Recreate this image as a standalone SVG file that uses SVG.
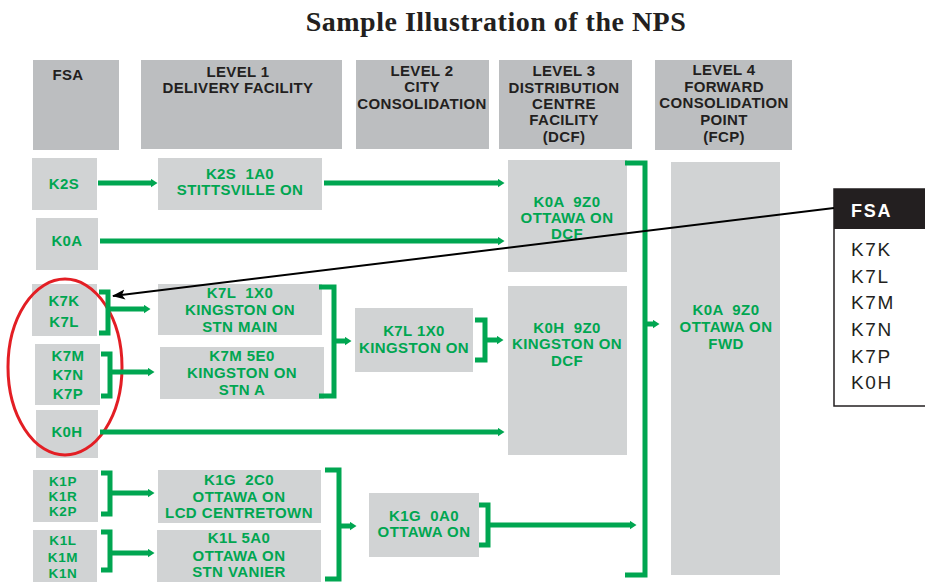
<svg xmlns="http://www.w3.org/2000/svg" width="925" height="582" viewBox="0 0 925 582">
<defs>
<style>
text{white-space:pre;font-family:"Liberation Sans",Arial,sans-serif}
.title{font-family:"Liberation Serif","Times New Roman",serif;font-weight:bold;font-size:28px;letter-spacing:0.5px;fill:#231f20}
.hdr{fill:#bcbec0}
.box{fill:#d1d3d4}
.ht{font-weight:bold;font-size:15px;letter-spacing:0.35px;fill:#231f20;text-anchor:middle}
.gt{font-weight:bold;font-size:15px;letter-spacing:0.4px;fill:#00a651;text-anchor:middle}
.gs{font-weight:bold;font-size:13.5px;letter-spacing:0.6px;fill:#00a651;text-anchor:middle}
.g{stroke:#00a651;stroke-width:5;fill:none}
.ga{stroke:#00a651;stroke-width:5;fill:none;marker-end:url(#gh)}
.lt{font-size:19px;letter-spacing:1.6px;fill:#231f20}
</style>
<marker id="gh" markerUnits="userSpaceOnUse" markerWidth="8" markerHeight="10" refX="0.5" refY="4.5" orient="auto"><path d="M0,0 L7,4.5 L0,9 z" fill="#00a651"/></marker>
<marker id="bh" markerUnits="userSpaceOnUse" markerWidth="14" markerHeight="12" refX="12" refY="5" orient="auto"><path d="M0,0 L13,5 L0,10 L3,5 z" fill="#000"/></marker>
</defs>
<rect width="925" height="582" fill="#fff"/>
<text class="title" x="496" y="31" text-anchor="middle">Sample Illustration of the NPS</text>

<g id="hdr-fsa"><rect class="hdr" x="33" y="60" width="86" height="90"/><text class="ht" x="68" y="80">FSA</text></g>
<g id="hdr-l1"><rect class="hdr" x="141" y="60" width="201" height="89"/><text class="ht" x="238" y="77">LEVEL 1</text><text class="ht" x="238" y="93">DELIVERY FACILITY</text></g>
<g id="hdr-l2"><rect class="hdr" x="356" y="60" width="133" height="89"/><text class="ht" x="422" y="76">LEVEL 2</text><text class="ht" x="422" y="92">CITY</text><text class="ht" x="422" y="109">CONSOLIDATION</text></g>
<g id="hdr-l3"><rect class="hdr" x="499" y="60" width="133" height="89"/><text class="ht" x="564" y="76">LEVEL 3</text><text class="ht" x="564" y="93">DISTRIBUTION</text><text class="ht" x="564" y="109">CENTRE</text><text class="ht" x="564" y="125">FACILITY</text><text class="ht" x="564" y="142">(DCF)</text></g>
<g id="hdr-l4"><rect class="hdr" x="655" y="60" width="137" height="90"/><text class="ht" x="724" y="75">LEVEL 4</text><text class="ht" x="724" y="92">FORWARD</text><text class="ht" x="724" y="108">CONSOLIDATION</text><text class="ht" x="724" y="125">POINT</text><text class="ht" x="724" y="142">(FCP)</text></g>

<g id="fsa-k2s"><rect class="box" x="32" y="158" width="65" height="52"/><text class="gt" x="64" y="189">K2S</text></g>
<g id="fsa-k0a"><rect class="box" x="36" y="218" width="62" height="52"/><text class="gt" x="67" y="246">K0A</text></g>
<g id="fsa-k7k"><rect class="box" x="32" y="284" width="65" height="52"/><text class="gt" x="64" y="306">K7K</text><text class="gt" x="64" y="327">K7L</text></g>
<g id="fsa-k7m"><rect class="box" x="35" y="344" width="65" height="61"/><text class="gt" x="68" y="361">K7M</text><text class="gt" x="68" y="380">K7N</text><text class="gt" x="68" y="399">K7P</text></g>
<g id="fsa-k0h"><rect class="box" x="36" y="410" width="62" height="48"/><text class="gt" x="67" y="437">K0H</text></g>
<g id="fsa-k1p"><rect class="box" x="33" y="470" width="65" height="52"/><text class="gs" x="63" y="486">K1P</text><text class="gs" x="63" y="501">K1R</text><text class="gs" x="63" y="516">K2P</text></g>
<g id="fsa-k1l"><rect class="box" x="33" y="530" width="64" height="52"/><text class="gs" x="63" y="545">K1L</text><text class="gs" x="63" y="562">K1M</text><text class="gs" x="63" y="578">K1N</text></g>

<g id="l1-k2s1a0"><rect class="box" x="158" y="158" width="164" height="52"/><text class="gt" x="240" y="179">K2S  1A0</text><text class="gt" x="240" y="195">STITTSVILLE ON</text></g>
<g id="l1-k7l1x0"><rect class="box" x="158" y="284" width="164" height="51"/><text class="gt" x="240" y="298">K7L  1X0</text><text class="gt" x="240" y="315">KINGSTON ON</text><text class="gt" x="240" y="332">STN MAIN</text></g>
<g id="l1-k7m5e0"><rect class="box" x="160" y="347" width="164" height="52"/><text class="gt" x="242" y="361">K7M 5E0</text><text class="gt" x="242" y="378">KINGSTON ON</text><text class="gt" x="242" y="395">STN A</text></g>
<g id="l1-k1g2c0"><rect class="box" x="158" y="470" width="163" height="53"/><text class="gt" x="239" y="485">K1G  2C0</text><text class="gt" x="239" y="502">OTTAWA ON</text><text class="gt" x="239" y="518">LCD CENTRETOWN</text></g>
<g id="l1-k1l5a0"><rect class="box" x="157" y="530" width="164" height="52"/><text class="gt" x="239" y="543">K1L 5A0</text><text class="gt" x="239" y="561">OTTAWA ON</text><text class="gt" x="239" y="577">STN VANIER</text></g>

<g id="l2-k7l1x0"><rect class="box" x="355" y="308" width="118" height="64"/><text class="gt" x="414" y="336">K7L 1X0</text><text class="gt" x="414" y="353">KINGSTON ON</text></g>
<g id="l2-k1g0a0"><rect class="box" x="369" y="493" width="110" height="64"/><text class="gt" x="424" y="521">K1G  0A0</text><text class="gt" x="424" y="537">OTTAWA ON</text></g>

<g id="l3-k0a9z0"><rect class="box" x="508" y="160" width="119" height="112"/><text class="gt" x="567" y="207">K0A  9Z0</text><text class="gt" x="567" y="223">OTTAWA ON</text><text class="gt" x="567" y="239">DCF</text></g>
<g id="l3-k0h9z0"><rect class="box" x="508" y="286" width="119" height="169"/><text class="gt" x="567" y="333">K0H  9Z0</text><text class="gt" x="567" y="349">KINGSTON ON</text><text class="gt" x="567" y="366">DCF</text></g>
<g id="l4-fwd"><rect class="box" x="671" y="162" width="109" height="413"/><text class="gt" x="726" y="315">K0A  9Z0</text><text class="gt" x="726" y="332">OTTAWA ON</text><text class="gt" x="726" y="349">FWD</text></g>

<g id="legend">
<rect x="834" y="189" width="95" height="217" fill="#fff" stroke="#231f20" stroke-width="1.5"/>
<rect x="834" y="189" width="95" height="40" fill="#231f20"/>
<text x="851" y="217" font-weight="bold" font-size="18" letter-spacing="1.8" fill="#fff">FSA</text>
<text class="lt" x="851" y="256">K7K</text>
<text class="lt" x="851" y="283">K7L</text>
<text class="lt" x="851" y="309">K7M</text>
<text class="lt" x="851" y="336">K7N</text>
<text class="lt" x="851" y="363">K7P</text>
<text class="lt" x="851" y="389">K0H</text>
</g>

<g id="highlight"><ellipse cx="65" cy="367" rx="57" ry="88" fill="none" stroke="#e31e24" stroke-width="3"/></g>

<g id="connectors">
<line class="ga" x1="98" y1="183" x2="151" y2="183"/>
<line class="ga" x1="324" y1="183" x2="498" y2="183"/>
<line class="ga" x1="100" y1="241" x2="498" y2="241"/>
<path class="g" d="M99,292 H108 V333 H99"/>
<line class="ga" x1="108" y1="309" x2="144" y2="309"/>
<path class="g" d="M101,354 H110 V396 H101"/>
<line class="ga" x1="110" y1="372" x2="148" y2="372"/>
<line class="ga" x1="100" y1="432" x2="498" y2="432"/>
<path class="g" d="M319,287 H334 V396 H319"/>
<line class="ga" x1="334" y1="341" x2="345" y2="341"/>
<path class="g" d="M475,320 H485 V360 H475"/>
<line class="ga" x1="485" y1="340" x2="497" y2="340"/>
<path class="g" d="M625,163 H645 V575 H625"/>
<line class="ga" x1="645" y1="324" x2="653" y2="324"/>
<path class="g" d="M101,473 H110 V514 H101"/>
<line class="ga" x1="110" y1="493" x2="148" y2="493"/>
<path class="g" d="M101,532 H110 V570 H101"/>
<line class="ga" x1="110" y1="553" x2="148" y2="553"/>
<path class="g" d="M325,470 H339 V579 H325"/>
<line class="ga" x1="339" y1="526" x2="350" y2="526"/>
<path class="g" d="M479,505 H488 V545 H479"/>
<line class="ga" x1="488" y1="525" x2="630" y2="525"/>
<line x1="834" y1="208" x2="113" y2="296" stroke="#000" stroke-width="2" marker-end="url(#bh)"/>
</g>
</svg>
